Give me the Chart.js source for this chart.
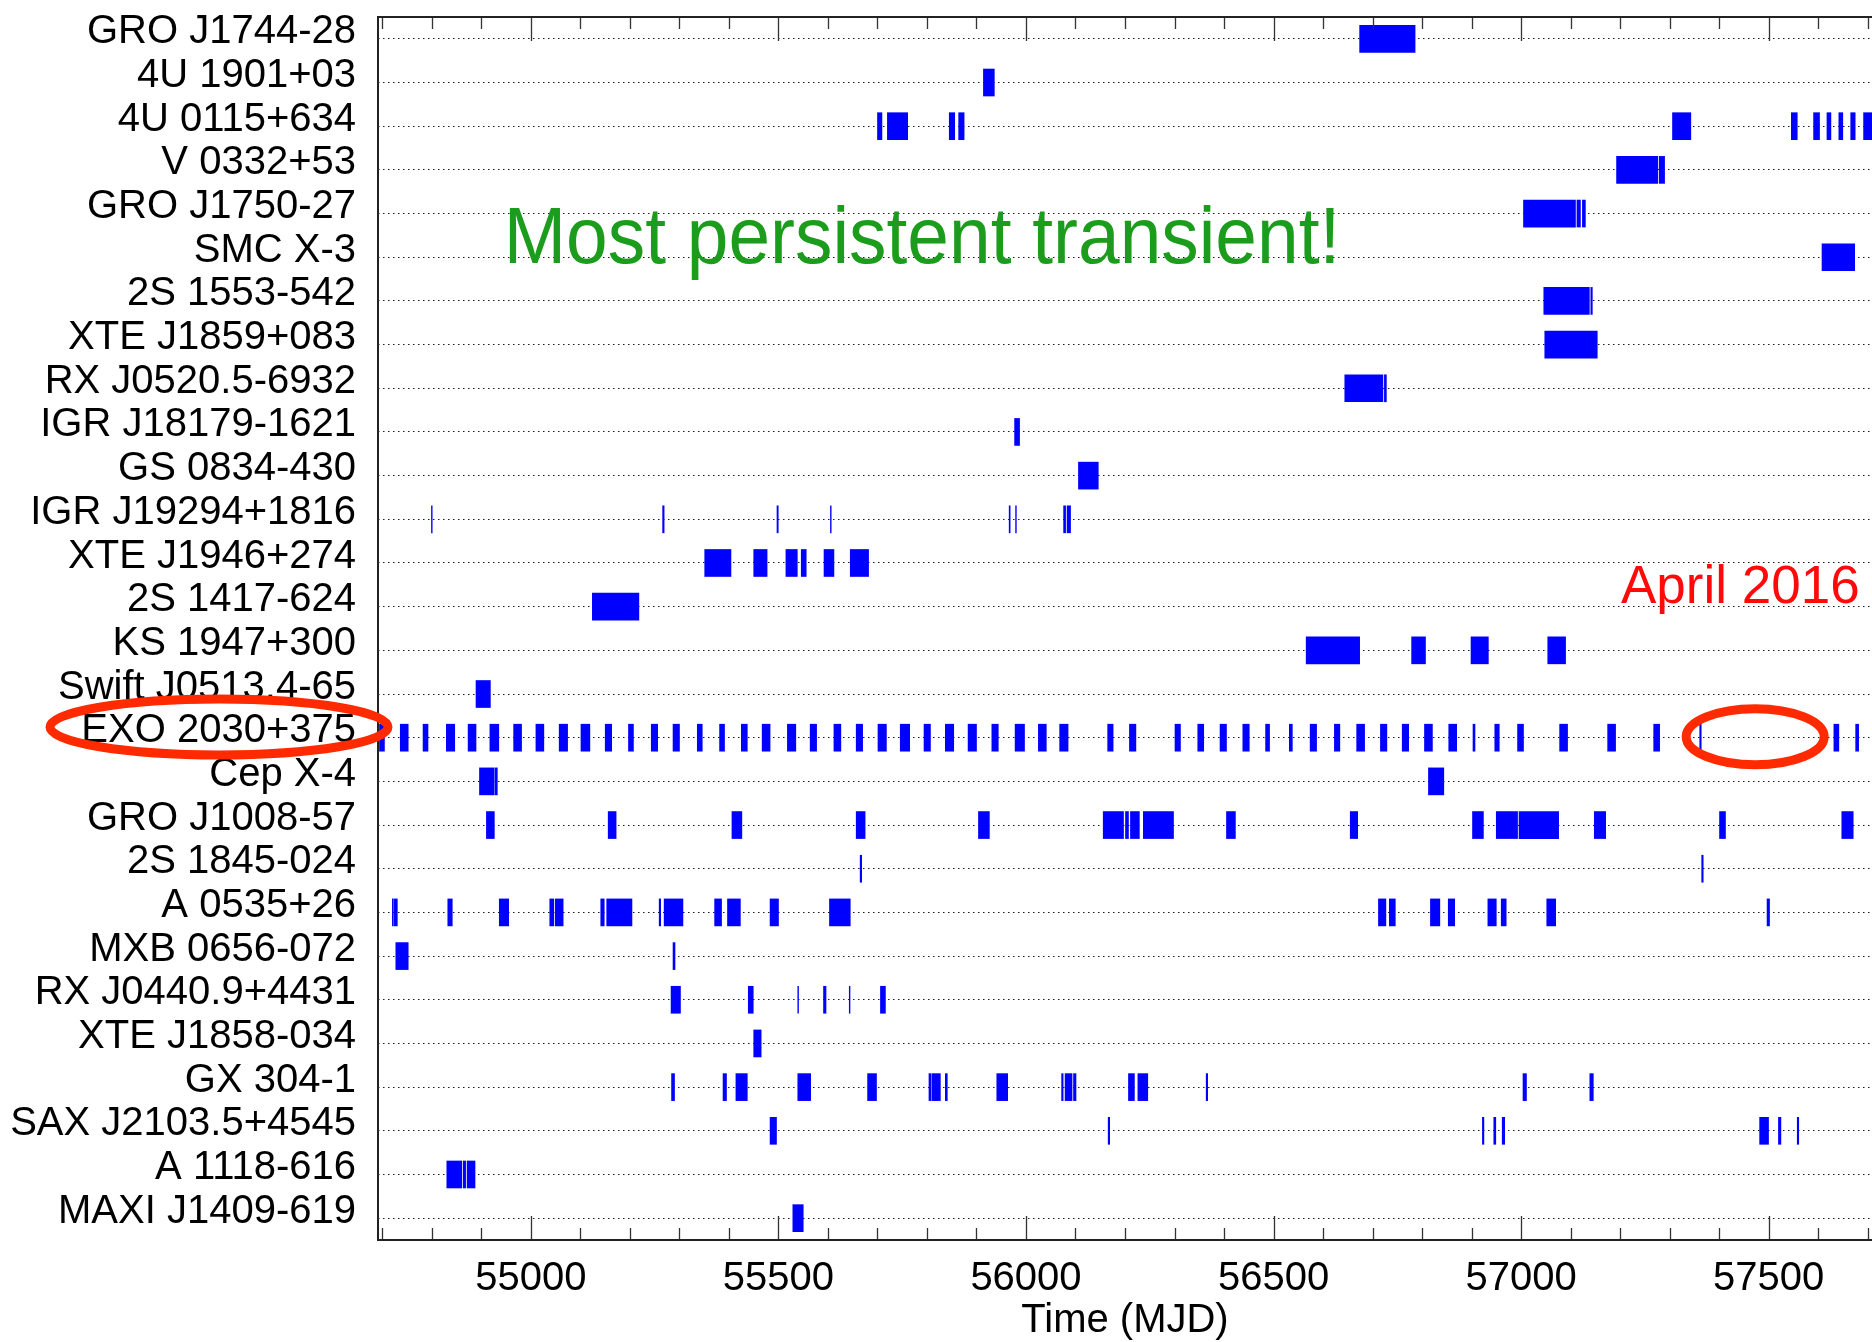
<!DOCTYPE html>
<html>
<head>
<meta charset="utf-8">
<title>Outburst coverage</title>
<script src="https://cdn.jsdelivr.net/npm/chart.js@4.4.1/dist/chart.umd.min.js"></script>
<style>
  html, body { margin: 0; padding: 0; background: #fff; }
  #wrap { width: 1872px; height: 1342px; position: relative; }
</style>
</head>
<body>
<div id="wrap"><canvas id="outburstChart"></canvas></div>
<script>
// sources, top to bottom
var sources = [
    'GRO J1744-28', '4U 1901+03', '4U 0115+634', 'V 0332+53', 'GRO J1750-27',
    'SMC X-3', '2S 1553-542', 'XTE J1859+083', 'RX J0520.5-6932', 'IGR J18179-1621',
    'GS 0834-430', 'IGR J19294+1816', 'XTE J1946+274', '2S 1417-624', 'KS 1947+300',
    'Swift J0513.4-65', 'EXO 2030+375', 'Cep X-4', 'GRO J1008-57', '2S 1845-024',
    'A 0535+26', 'MXB 0656-072', 'RX J0440.9+4431', 'XTE J1858-034', 'GX 304-1',
    'SAX J2103.5+4545', 'A 1118-616', 'MAXI J1409-619'
];

// observed intervals [start, end] in MJD
var groJ1744 = [[56674, 56786]];
var u1901 = [[55914, 55936]];
var u0115 = [[55700, 55709], [55720, 55761], [55845, 55856], [55864, 55875], [57306, 57343],
    [57546, 57558], [57591, 57603], [57618, 57626], [57642, 57650], [57666, 57675], [57692, 57712]];
var v0332 = [[57193, 57276], [57279, 57290]];
var groJ1750 = [[57005, 57110], [57113, 57120], [57124, 57130]];
var smcX3 = [[57608, 57674]];
var s1553 = [[57046, 57138], [57141, 57144]];
var xteJ1859 = [[57048, 57154]];
var rxJ0520 = [[56644, 56721], [56724, 56728]];
var igrJ18179 = [[55977, 55987]];
var gs0834 = [[56106, 56146]];
var igrJ19294 = [[54799, 54800.5], [55266, 55269], [55497, 55499.5], [55605, 55606.5], [55966, 55968],
    [55979, 55980.5], [56076, 56080], [56083, 56090]];
var xteJ1946 = [[55351, 55404], [55450, 55477], [55515, 55538], [55546, 55556], [55592, 55612], [55645, 55682]];
var s1417 = [[55124, 55218]];
var ks1947 = [[56566, 56674], [56779, 56807], [56899, 56934], [57054, 57090]];
var swiftJ0513 = [[54889, 54918]];
var exo2030 = [[54694, 54704], [54736, 54752], [54782, 54792], [54829, 54846], [54873, 54889],
    [54917, 54935], [54965, 54981], [55010, 55026], [55057, 55074], [55101, 55119], [55150, 55163],
    [55197, 55207], [55243, 55256], [55287, 55300], [55336, 55346], [55381, 55391], [55425, 55437],
    [55467, 55483], [55518, 55535], [55564, 55577], [55612, 55626], [55657, 55670], [55701, 55718],
    [55746, 55765], [55794, 55807], [55837, 55854], [55883, 55900], [55931, 55944], [55978, 55997],
    [56025, 56041], [56068, 56085], [56165, 56176], [56209, 56222], [56301, 56312], [56347, 56359],
    [56392, 56405], [56438, 56451], [56484, 56492], [56532, 56538], [56574, 56587], [56623, 56634],
    [56668, 56684], [56716, 56729], [56760, 56773], [56805, 56821], [56854, 56870], [56903, 56907],
    [56947, 56956], [56993, 57005], [57078, 57094], [57175, 57191], [57268, 57280], [57361, 57364],
    [57632, 57642], [57676, 57682]];
var cepX4 = [[54896, 54925], [54927, 54932], [56813, 56844]];
var groJ1008 = [[54910, 54926], [55156, 55172], [55406, 55426], [55657, 55675], [55904, 55926],
    [56156, 56197], [56201, 56207], [56211, 56229], [56237, 56298], [56405, 56423], [56655, 56670],
    [56902, 56924], [56950, 56993], [56996, 57076], [57148, 57171], [57401, 57413], [57648, 57671]];
var s1845 = [[55665, 55668], [57365, 57368]];
var a0535 = [[54720, 54722], [54724, 54730], [54832, 54841], [54936, 54955], [55038, 55046],
    [55049, 55065], [55141, 55148], [55153, 55204], [55259, 55262], [55269, 55307], [55371, 55385],
    [55397, 55423], [55483, 55500], [55603, 55645], [56712, 56727], [56734, 56746], [56817, 56836],
    [56853, 56866], [56933, 56950], [56960, 56970], [57052, 57070], [57497, 57502]];
var mxb0656 = [[54727, 54752], [55287, 55291]];
var rxJ0440 = [[55283, 55302], [55439, 55449], [55539, 55540.5], [55591, 55596], [55643, 55644.5], [55706, 55716]];
var xteJ1858 = [[55450, 55465]];
var gx304 = [[55284, 55290], [55388, 55395], [55414, 55437], [55539, 55565], [55680, 55698],
    [55804, 55808], [55810, 55827], [55837, 55841], [55941, 55963], [56072, 56075], [56079, 56093],
    [56096, 56101], [56207, 56219], [56226, 56246], [56364, 56367], [57004, 57011], [57139, 57146]];
var sax2103 = [[55483, 55496], [56166, 56169], [56922, 56925], [56945, 56949], [56962, 56967],
    [57482, 57500], [57520, 57525], [57558, 57561]];
var a1118 = [[54830, 54860], [54863, 54868], [54871, 54887]];
var maxiJ1409 = [[55529, 55550]];

var intervals = [groJ1744, u1901, u0115, v0332, groJ1750, smcX3, s1553, xteJ1859, rxJ0520,
    igrJ18179, gs0834, igrJ19294, xteJ1946, s1417, ks1947, swiftJ0513, exo2030, cepX4, groJ1008,
    s1845, a0535, mxb0656, rxJ0440, xteJ1858, gx304, sax2103, a1118, maxiJ1409];

// time axis
var xMin = 54691, xMax = 57709;
var xTicks = [55000, 55500, 56000, 56500, 57000, 57500];
var minorStep = 100, majorStep = 500;

var noteText = 'Most persistent transient!';
var dateText = 'April 2016';
var gapCenter = 57473; // missing outburst of EXO 2030+375

var fontFamily = '"Liberation Sans", Arial, Helvetica, sans-serif';

var barData = [];
intervals.forEach(function (list, i) {
    list.forEach(function (iv) {
        barData.push({ x: iv, y: sources[i] });
    });
});

// box around the plot plus inward ticks on top and bottom
var framePlugin = {
    id: 'frame',
    afterDatasetsDraw: function (chart) {
        var c = chart.ctx, a = chart.chartArea, xs = chart.scales.x;
        c.save();
        c.strokeStyle = '#333';
        c.lineWidth = 1.3;
        for (var v = Math.ceil(xMin / minorStep) * minorStep; v <= xMax; v += minorStep) {
            var px = Math.round(xs.getPixelForValue(v)) + 0.5;
            var len = v % majorStep === 0 ? 24 : 12;
            c.beginPath();
            c.moveTo(px, a.top);
            c.lineTo(px, a.top + len);
            c.moveTo(px, a.bottom);
            c.lineTo(px, a.bottom - len);
            c.stroke();
        }
        c.lineWidth = 2;
        c.strokeStyle = '#222';
        c.beginPath();
        c.moveTo(a.right + 2, a.top);
        c.lineTo(a.left, a.top);
        c.lineTo(a.left, a.bottom);
        c.lineTo(a.right + 2, a.bottom);
        c.stroke();
        c.restore();
    }
};

// captions and red rings
var notesPlugin = {
    id: 'notes',
    afterDraw: function (chart) {
        var c = chart.ctx, xs = chart.scales.x, ys = chart.scales.y;
        var exoRow = ys.getPixelForValue(sources.indexOf('EXO 2030+375'));

        c.save();
        c.textBaseline = 'alphabetic';
        c.textAlign = 'left';
        c.fillStyle = '#1c9c1c';
        c.font = '80px ' + fontFamily;
        c.translate(xs.getPixelForValue(54945), ys.getPixelForValue(5) + 6);
        c.scale(0.936, 1);
        c.fillText(noteText, 0, 0);
        c.restore();

        c.save();
        c.fillStyle = '#ff0a0a';
        c.font = '53px ' + fontFamily;
        c.textBaseline = 'alphabetic';
        c.fillText(dateText, xs.getPixelForValue(57202), ys.getPixelForValue(13) - 4);

        c.strokeStyle = '#ff2a00';
        c.lineWidth = 9;
        c.beginPath();
        c.ellipse(ys.right - 159, exoRow - 10.7, 169, 28, 0, 0, Math.PI * 2);
        c.stroke();
        c.beginPath();
        c.ellipse(xs.getPixelForValue(gapCenter), exoRow - 1, 69, 28, 0, 0, Math.PI * 2);
        c.stroke();
        c.restore();
    }
};

var ctx = document.getElementById('outburstChart');

new Chart(ctx, {
    type: 'bar',
    data: {
        labels: sources,
        datasets: [{
            data: barData,
            backgroundColor: '#0000ff',
            borderWidth: 0,
            barThickness: 27
        }]
    },
    options: {
        indexAxis: 'y',
        responsive: true,
        maintainAspectRatio: false,
        animation: false,
        devicePixelRatio: 1,
        layout: { padding: { top: 17, left: 0, right: 0, bottom: 0 } },
        plugins: {
            legend: { display: false },
            tooltip: { enabled: false }
        },
        scales: {
            x: {
                type: 'linear',
                min: xMin,
                max: xMax,
                grid: { display: false, drawTicks: false },
                border: { display: false },
                afterBuildTicks: function (axis) {
                    axis.ticks = xTicks.map(function (v) { return { value: v }; });
                },
                afterFit: function (axis) {
                    axis.height = 102;
                    axis.paddingLeft = 0;
                    axis.paddingRight = 0;
                },
                ticks: {
                    padding: 15,
                    maxRotation: 0,
                    color: '#000',
                    font: { size: 40, family: fontFamily },
                    callback: function (v) { return String(v); }
                },
                title: {
                    display: true,
                    text: 'Time (MJD)',
                    color: '#000',
                    font: { size: 40, family: fontFamily },
                    padding: { top: 0, bottom: -3 }
                }
            },
            y: {
                type: 'category',
                offset: true,
                grid: { offset: false, color: '#1a1a1a', lineWidth: 1, drawTicks: false },
                border: { display: false, dash: [1.5, 3.5] },
                afterFit: function (axis) {
                    axis.width = 378;
                    axis.paddingTop = 0;
                    axis.paddingBottom = 0;
                },
                ticks: {
                    autoSkip: false,
                    padding: 22,
                    labelOffset: -6.5,
                    color: '#000',
                    font: { size: 40, family: fontFamily }
                }
            }
        }
    },
    plugins: [framePlugin, notesPlugin]
});
</script>
</body>
</html>
